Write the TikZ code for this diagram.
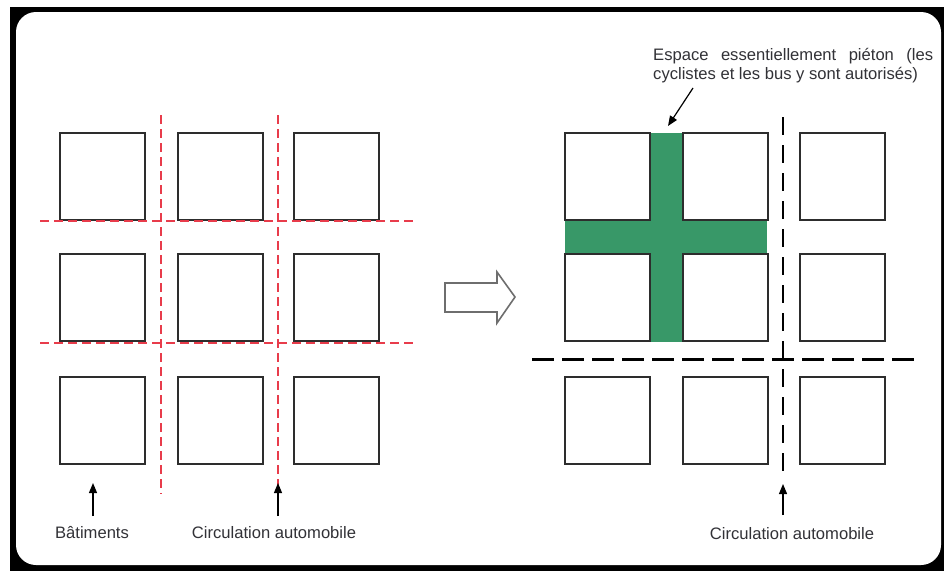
\documentclass[tikz,border=0pt]{standalone}
\usepackage{fontspec}
\setmainfont{Liberation Sans}
\usetikzlibrary{arrows.meta}
\definecolor{txt}{RGB}{50,50,55}
\definecolor{edge}{RGB}{45,45,45}
\definecolor{roadred}{RGB}{232,60,75}
\definecolor{pedgreen}{RGB}{56,152,104}
\definecolor{hollow}{RGB}{110,110,110}
\tikzset{
  bldg/.style={draw=edge, line width=1.3pt, fill=white, minimum width=85pt, minimum height=87pt, inner sep=0pt, outer sep=0pt, anchor=north west},
  redroad/.style={draw=roadred, line width=1.3pt, dash pattern=on 9pt off 5pt},
  blackroadh/.style={draw=black, line width=3pt, dash pattern=on 22pt off 8pt},
  blackroadv/.style={draw=black, line width=2pt, dash pattern=on 18pt off 10pt},
  pointer/.style={draw=black, line width=1.2pt, -{Triangle[length=10pt,width=8pt]}},
  lbl/.style={text=txt, font=\fontsize{16.6}{19}\selectfont, inner sep=0pt}
}
\begin{document}
\begin{tikzpicture}[x=1pt,y=-1pt]
\useasboundingbox (0,0) rectangle (944,571);
% frame
\fill[white] (0,0) rectangle (944,571);
\fill[black] (10,7) rectangle (944,571);
\fill[white, rounded corners=20pt] (16,12) rectangle (941,565);

% ---------- left grid ----------
\foreach \c/\x in {1/60,2/178,3/294}{
  \foreach \r/\y in {1/133,2/254,3/377}{
    \node[bldg] (L\r\c) at (\x,\y) {};
  }
}
\draw[redroad] (40,221) -- (413,221);
\draw[redroad] (40,343) -- (413,343);
\draw[redroad] (161,115) -- (161,494);
\draw[redroad] (278,115) -- (278,494);

\node[lbl] (bat) at (92,533) {Bâtiments};
\node[lbl] (circL) at (274,533) {Circulation automobile};
\coordinate (batfrom) at (93,516);
\coordinate (batto) at (93,483);
\coordinate (circLfrom) at (278,516);
\coordinate (circLto) at (278,483);
\draw[pointer] (batfrom) -- (batto);
\draw[pointer] (circLfrom) -- (circLto);

% ---------- hollow arrow ----------
\draw[hollow, line width=1.6pt, line join=miter] (445,283) -- (497,283) -- (497,272) -- (515,297) -- (497,323) -- (497,312) -- (445,312) -- cycle;

% ---------- right grid ----------
\foreach \c/\x in {1/565,2/683,3/800}{
  \foreach \r/\y in {1/133,2/254,3/377}{
    \node[bldg] (R\r\c) at (\x,\y) {};
  }
}
\fill[pedgreen] (650.5,133) rectangle (681.5,342);
\fill[pedgreen] (565,220.5) rectangle (767,252.5);
\draw[edge, line width=1.3pt] (649.4,133) -- (649.4,219.6) (682.6,133) -- (682.6,219.6)
  (649.4,253.4) -- (649.4,342) (682.6,253.4) -- (682.6,342)
  (565,219.6) -- (649.4,219.6) (682.6,219.6) -- (767,219.6)
  (565,253.4) -- (649.4,253.4) (682.6,253.4) -- (767,253.4);

\draw[blackroadv] (783,117) -- (783,480);
\draw[blackroadh] (532,359) -- (920,359);

\node[lbl] (circR) at (792,534) {Circulation automobile};
\coordinate (circRfrom) at (783,515);
\coordinate (circRto) at (783,484);
\draw[pointer] (circRfrom) -- (circRto);

\node[lbl, anchor=north west, align=left] (pieton) at (653,48) {\hbox to 280pt{Espace\hfill essentiellement\hfill piéton\hfill (les}\\cyclistes et les bus y sont autorisés)};
\coordinate (pfrom) at (693,88);
\coordinate (pto) at (668,126);
\draw[pointer] (pfrom) -- (pto);
\end{tikzpicture}
\end{document}
